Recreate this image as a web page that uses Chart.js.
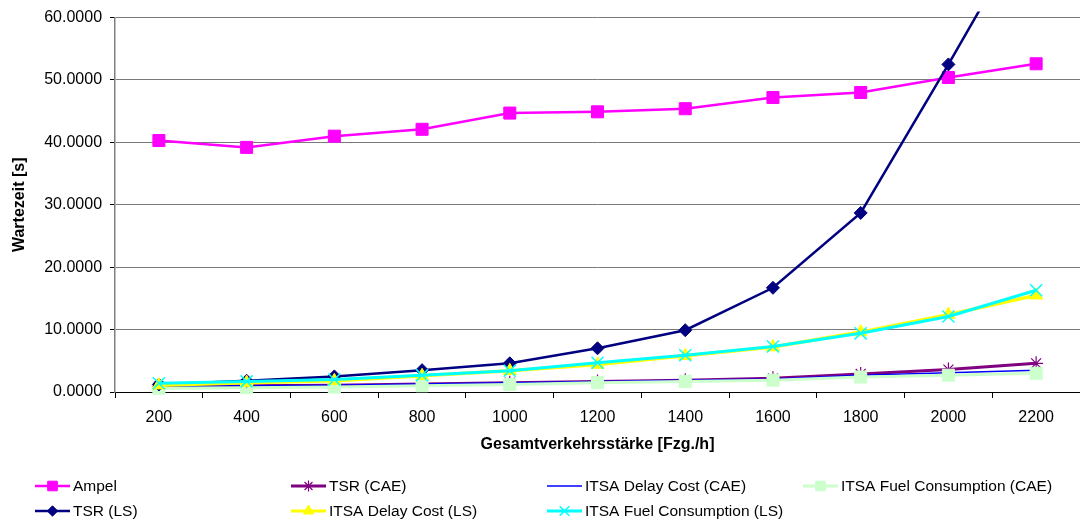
<!DOCTYPE html>
<html>
<head>
<meta charset="utf-8">
<script src="https://cdn.jsdelivr.net/npm/chart.js@4.4.1/dist/chart.umd.min.js"></script>
<style>
  html, body { margin: 0; padding: 0; background: #fff; overflow: hidden; }
  #wrap { width: 1090px; height: 525px; position: relative; }
  #c { display: block; }
</style>
</head>
<body>
<div id="wrap"><canvas id="c" width="1090" height="525"></canvas></div>
<script>
// Gesamtverkehrsstärke [Fzg./h]
const categories = ['200', '400', '600', '800', '1000', '1200', '1400', '1600', '1800', '2000', '2200'];

// Wartezeit [s] per strategy
const ampel        = [40.3, 39.2, 41.0, 42.1, 44.7, 44.9, 45.4, 47.2, 48.0, 50.4, 52.6];
const tsrCae       = [0.9, 1.0, 1.1, 1.3, 1.5, 1.7, 1.9, 2.2, 2.9, 3.6, 4.6];
const itsaDelayCae = [0.9, 1.0, 1.1, 1.3, 1.5, 1.7, 1.9, 2.1, 2.7, 3.1, 3.5];
const itsaFuelCae  = [0.6, 0.7, 0.8, 1.0, 1.2, 1.5, 1.7, 1.9, 2.4, 2.7, 3.0];
const tsrLs        = [1.2, 1.8, 2.5, 3.5, 4.6, 7.0, 9.9, 16.7, 28.7, 52.5, 77.0];
const itsaDelayLs  = [1.1, 1.5, 1.8, 2.6, 3.4, 4.4, 5.8, 7.2, 9.6, 12.4, 15.5];
const itsaFuelLs   = [1.4, 1.7, 2.0, 2.7, 3.4, 4.7, 5.9, 7.3, 9.4, 12.1, 16.3];

// y axis ticks
const yTicks = [0, 10, 20, 30, 40, 50, 60];

const FONT = '"Liberation Sans", Arial, sans-serif';

function series(label, data, color, width, style, radius, extra) {
  return Object.assign({
    label: label,
    data: data,
    borderColor: color,
    backgroundColor: color,
    borderWidth: width,
    pointStyle: style,
    pointRadius: radius,
    pointHoverRadius: radius,
    pointBorderColor: color,
    pointBackgroundColor: color,
    pointBorderWidth: 1,
    tension: 0,
    clip: false
  }, extra || {});
}

const datasets = [
  series('Ampel', ampel, '#FF00FF', 2.5, 'rect', 8.5),
  series('TSR (CAE)', tsrCae, '#800080', 3, 'star', 7, { pointBorderWidth: 1.2 }),
  series('ITSA Delay Cost (CAE)', itsaDelayCae, '#0000FF', 1.5, false, 0),
  series('ITSA Fuel Consumption (CAE)', itsaFuelCae, '#CCFFCC', 3, 'rect', 8.5),
  series('TSR (LS)', tsrLs, '#000080', 2.5, 'rectRot', 6.5, { clip: { left: 10, top: 6, right: 10, bottom: 10 } }),
  series('ITSA Delay Cost (LS)', itsaDelayLs, '#FFFF00', 3.5, 'triangle', 7.5),
  series('ITSA Fuel Consumption (LS)', itsaFuelLs, '#00FFFF', 3, 'crossRot', 8.5, { pointBorderWidth: 1.5 })
];
// later series are painted over earlier ones
datasets.forEach((d, i) => { d.order = datasets.length - i; });

// two-row legend grid below the plot
const legendCells = [
  { x: 35,  y: 486 }, { x: 291, y: 486 }, { x: 547, y: 486 }, { x: 803, y: 486 },
  { x: 35,  y: 511 }, { x: 291, y: 511 }, { x: 547, y: 511 }
];
const gridLegend = {
  id: 'gridLegend',
  afterDraw(chart) {
    const ctx = chart.ctx;
    chart.data.datasets.forEach((ds, i) => {
      const cell = legendCells[i];
      const lineLen = 35;
      ctx.save();
      ctx.strokeStyle = ds.borderColor;
      ctx.lineWidth = Math.min(ds.borderWidth, 3);
      ctx.beginPath();
      ctx.moveTo(cell.x, cell.y);
      ctx.lineTo(cell.x + lineLen, cell.y);
      ctx.stroke();
      if (ds.pointStyle) {
        ctx.fillStyle = ds.pointBackgroundColor;
        ctx.strokeStyle = ds.pointBorderColor;
        ctx.lineWidth = ds.pointBorderWidth;
        Chart.helpers.drawPoint(ctx, {
          pointStyle: ds.pointStyle,
          radius: ds.pointRadius * 0.8,
          rotation: 0,
          borderWidth: ds.pointBorderWidth
        }, cell.x + lineLen / 2, cell.y);
      }
      ctx.fillStyle = '#000';
      ctx.font = '15.5px ' + FONT;
      ctx.textBaseline = 'middle';
      ctx.textAlign = 'left';
      ctx.fillText(ds.label, cell.x + lineLen + 3, cell.y + 1);
      ctx.restore();
    });
  }
};

new Chart(document.getElementById('c'), {
  type: 'line',
  data: { labels: categories, datasets: datasets },
  plugins: [gridLegend],
  options: {
    responsive: false,
    animation: false,
    events: [],
    layout: { padding: { left: 10, right: 6, top: 7, bottom: 68.6 } },
    plugins: {
      legend: { display: false },
      tooltip: { enabled: false }
    },
    scales: {
      x: {
        type: 'category',
        offset: true,
        grid: {
          offset: true,
          drawOnChartArea: false,
          drawTicks: true,
          tickLength: 6,
          tickColor: '#000'
        },
        border: { color: '#000', width: 1 },
        ticks: {
          color: '#000',
          font: { family: FONT, size: 16 },
          padding: 10,
          maxRotation: 0,
          autoSkip: false
        },
        title: {
          display: true,
          text: 'Gesamtverkehrsstärke [Fzg./h]',
          color: '#000',
          font: { family: FONT, size: 16, weight: 'bold' },
          padding: { top: -2, bottom: 2 }
        }
      },
      y: {
        min: 0,
        max: 60,
        afterBuildTicks(scale) { scale.ticks = yTicks.map(v => ({ value: v })); },
        grid: {
          color: '#7a7a7a',
          lineWidth: 1,
          tickLength: 5,
          tickColor: '#000'
        },
        border: { color: '#808080', width: 1.5 },
        ticks: {
          color: '#000',
          font: { family: FONT, size: 16 },
          padding: 8,
          callback: v => Number(v).toFixed(4)
        },
        title: {
          display: true,
          text: 'Wartezeit [s]',
          color: '#000',
          font: { family: FONT, size: 16, weight: 'bold' },
          padding: { top: 0, bottom: 7 }
        }
      }
    }
  }
});
</script>
</body>
</html>
